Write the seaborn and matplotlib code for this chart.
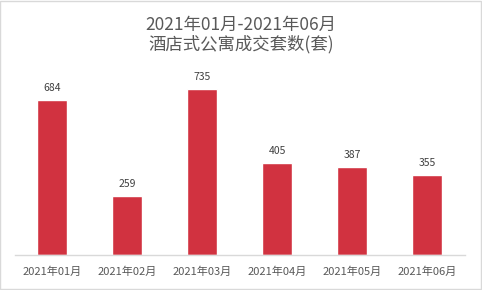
import matplotlib
matplotlib.use("Agg")
import matplotlib.pyplot as plt
import seaborn as sns
import pandas as pd
from matplotlib.patches import Rectangle

months = ["2021年01月", "2021年02月", "2021年03月", "2021年04月", "2021年05月", "2021年06月"]
values = [684, 259, 735, 405, 387, 355]
title_text = "2021年01月-2021年06月\n酒店式公寓成交套数(套)"

sns.set_theme(style="white")
plt.rcParams['font.family'] = ['Noto Sans CJK SC', 'DejaVu Sans']

df = pd.DataFrame({"month": months, "value": values})

fig = plt.figure(figsize=(4.82, 2.90), dpi=100)
ax = fig.add_axes([0.0311, 0.1207, 0.9336, 0.6241])
sns.barplot(data=df, x="month", y="value", color="#D13240", saturation=1, width=0.4, ax=ax)
ax.set_ylim(0, 800)
ax.set_xlabel("")
ax.set_ylabel("")
ax.set_yticks([])
for s in ["top", "left", "right"]:
    ax.spines[s].set_visible(False)
ax.spines["bottom"].set_color("#D9D9D9")
ax.spines["bottom"].set_linewidth(1)
ax.tick_params(axis="x", length=0, labelsize=8, colors="#595959", pad=8)
for c in ax.containers:
    ax.bar_label(c, fmt="%d", padding=5, fontsize=7.5, color="#404040")

fig.text(0.5, 0.815, title_text, ha="center", va="bottom", fontsize=12.5, color="#595959", linespacing=1.1)
fig.patches.append(Rectangle((0.001, 0.002), 0.997, 0.995, transform=fig.transFigure,
                             fill=False, edgecolor="#D9D9D9", linewidth=1))
fig.savefig("out.png", dpi=100)
